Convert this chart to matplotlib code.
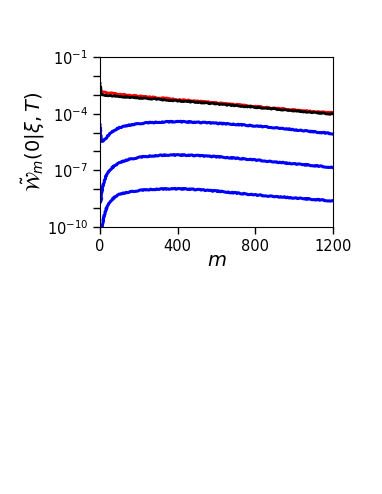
import numpy as np
import matplotlib.pyplot as plt
import matplotlib.ticker as mticker

m_top = [0, 2, 5, 10, 25, 50, 75, 100, 150, 200, 250, 300, 350, 400, 450, 500,
         550, 600, 650, 700, 750, 800, 850, 900, 950, 1000, 1050, 1100, 1150, 1200]

# log10 values
red = [-2.80, -2.84, -2.86, -2.85, -2.88, -2.91, -2.93, -2.97, -3.02, -3.07, -3.11,
       -3.16, -3.20, -3.25, -3.29, -3.34, -3.38, -3.43, -3.48, -3.52, -3.57, -3.62,
       -3.66, -3.71, -3.75, -3.79, -3.84, -3.88, -3.92, -3.95]
black = [-2.40, -2.60, -2.98, -3.01, -3.02, -3.04, -3.06, -3.09, -3.13, -3.17, -3.20,
         -3.24, -3.28, -3.32, -3.36, -3.40, -3.44, -3.49, -3.53, -3.58, -3.62, -3.66,
         -3.71, -3.75, -3.80, -3.84, -3.89, -3.94, -3.98, -4.03]

m_b1 = [0, 2, 5, 10, 15, 20, 30, 40, 50, 60, 80, 100, 125, 150, 200, 250, 300, 350,
        400, 450, 500, 550, 600, 650, 700, 750, 800, 850, 900, 950, 1000, 1050, 1100,
        1150, 1200]
blue1 = [-4.60, -5.00, -5.35, -5.46, -5.44, -5.40, -5.30, -5.18, -5.06, -4.97, -4.84,
         -4.74, -4.67, -4.61, -4.53, -4.48, -4.45, -4.43, -4.42, -4.44, -4.46, -4.48,
         -4.51, -4.54, -4.57, -4.61, -4.65, -4.69, -4.74, -4.79, -4.85, -4.90, -4.96,
         -5.01, -5.06]

m_b2 = [4, 6, 8, 10, 15, 20, 30, 40, 50, 60, 80, 100, 125, 150, 200, 250, 300, 350,
        400, 450, 500, 550, 600, 650, 700, 750, 800, 850, 900, 950, 1000, 1050, 1100,
        1150, 1200]
blue2 = [-8.65, -8.55, -8.35, -8.15, -7.85, -7.62, -7.32, -7.12, -6.98, -6.88, -6.72,
         -6.60, -6.50, -6.42, -6.32, -6.25, -6.21, -6.19, -6.19, -6.20, -6.22, -6.25,
         -6.28, -6.32, -6.36, -6.40, -6.45, -6.50, -6.55, -6.60, -6.65, -6.70, -6.75,
         -6.80, -6.85]

m_b3 = [12, 15, 20, 30, 40, 50, 60, 80, 100, 125, 150, 200, 250, 300, 350, 400, 450,
        500, 550, 600, 650, 700, 750, 800, 850, 900, 950, 1000, 1050, 1100, 1150, 1200]
blue3 = [-10.2, -9.80, -9.45, -9.08, -8.85, -8.68, -8.56, -8.38, -8.27, -8.20, -8.15,
         -8.07, -8.02, -7.99, -7.98, -7.98, -7.99, -8.02, -8.06, -8.10, -8.15, -8.20,
         -8.25, -8.30, -8.34, -8.38, -8.42, -8.46, -8.50, -8.54, -8.58, -8.62]

fig = plt.figure(figsize=(3.82, 4.94), dpi=100)
ax = fig.add_axes([100 / 382, 1 - 227 / 494, 233 / 382, 170 / 494])

lines = []
lines += ax.plot(m_top, 10.0 ** np.array(red), color='red', lw=2)
lines += ax.plot(m_top, 10.0 ** np.array(black), color='black', lw=2)
for mm, yy in [(m_b1, blue1), (m_b2, blue2), (m_b3, blue3)]:
    lines += ax.plot(mm, 10.0 ** np.array(yy), color='blue', lw=2.2)

# jittery look of the simulated curves
for ln in lines:
    ln.set_sketch_params(0.45, 2.0, 6.0)

ax.set_yscale('log')
ax.set_xlim(0, 1200)
ax.set_ylim(1e-10, 1e-1)
ax.set_xticks([0, 400, 800, 1200])
ax.yaxis.set_major_locator(mticker.FixedLocator([1e-10, 1e-7, 1e-4, 1e-1]))
ax.yaxis.set_minor_locator(mticker.FixedLocator([10.0 ** k for k in range(-10, 0)]))
ax.yaxis.set_minor_formatter(mticker.NullFormatter())
ax.tick_params(which='both', direction='out', length=5, width=1, labelsize=10.5,
               right=False, top=False)

ax.set_xlabel(r'$\mathbf{\mathit{m}}$', fontsize=14, labelpad=-2)
ax.set_ylabel(r'$\tilde{\mathcal{W}}_m(0|\xi,T)$', fontsize=14, labelpad=0)

fig.savefig('out.png', dpi=100)
